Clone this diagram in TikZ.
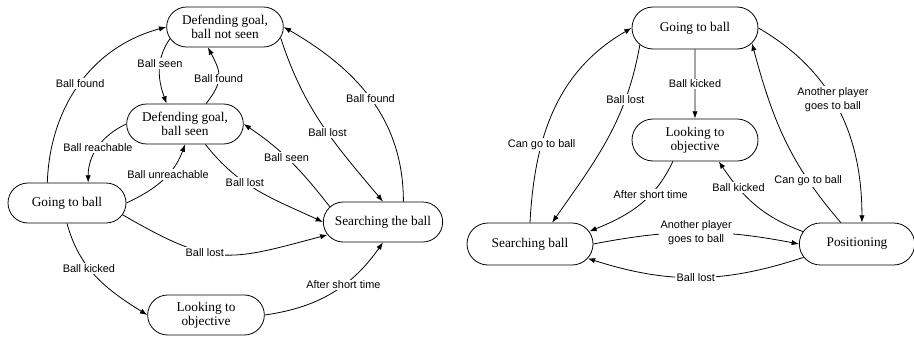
\documentclass[tikz,border=0pt]{standalone}
\usepackage{fontspec}
\setmainfont{Liberation Serif}
\setsansfont{Liberation Sans}
\usetikzlibrary{arrows.meta,shapes.misc}

\begin{document}
\begin{tikzpicture}[x=0.75pt,y=0.75pt,line width=0.6pt,>={Latex[length=5.5pt,width=4pt]},
	zustand/.style={draw,rounded rectangle,inner xsep=-6pt,minimum width=75.5pt,minimum height=30pt,align=center,font=\fontsize{10}{10.5}\selectfont},
	zustandr/.style={zustand,minimum width=82.5pt,minimum height=31.5pt},
	lbl/.style={fill=white,inner sep=1pt,align=center,font=\sffamily\fontsize{8.2}{10.5}\selectfont}]
	\useasboundingbox (0,0) rectangle (914,-336);
	% Zustaende links
	\node[zustand] (defa) at (225,-27) {Defending goal,\\ball not seen};
	\node[zustand] (defb) at (185,-124) {Defending goal,\\ball seen};
	\node[zustand,minimum width=76.5pt] (goL) at (67,-203) {Going to ball};
	\node[zustand,minimum width=77.5pt] (searchL) at (383,-222) {Searching the ball};
	\node[zustand] (lookL) at (206,-315) {Looking to\\objective};
	% Uebergaenge links
	\draw[->] (goL.134) to[out=88,in=195] node[lbl,pos=0.5] {Ball found} (defa.west);
	\draw[->] (defa.192) to[out=235,in=110] node[lbl,pos=0.4] {Ball seen} (defb.132);
	\draw[->] (defb.44) to[out=52,in=-62,looseness=1.3] node[lbl,pos=0.45] {Ball found} (defa.230);
	\draw[->] (defb.west) to[out=205,in=90] node[lbl,pos=0.5] {Ball reachable} (goL.44);
	\draw[->] (goL.east) to[out=25,in=-110] node[lbl,pos=0.6] {Ball unreachable} (defb.south);
	\draw[->] (defb.315) to[out=-52,in=155] node[lbl,pos=0.38] {Ball lost} (searchL.west);
	\draw[->] (searchL.164) to[out=128,in=-34] node[lbl,pos=0.55] {Ball seen} (defb.east);
	\draw[->] (defa.349) to[out=-72,in=130] node[lbl,pos=0.55] {Ball lost} (searchL.north);
	\draw[->] (searchL.45) to[out=90,in=-30] node[lbl,pos=0.5] {Ball found} (defa.east);
	\draw[->] (goL.348) to[out=-30,in=195,looseness=1.3] node[lbl,pos=0.4] {Ball lost} (searchL.193);
	\draw[->] (goL.south) to[out=-75,in=148] node[lbl,pos=0.4] {Ball kicked} (lookL.west);
	\draw[->] (lookL.east) to[out=8,in=235] node[lbl,pos=0.6] {After short time} (searchL.south);
	% Zustaende rechts
	\node[zustandr] (goR) at (695,-28) {Going to ball};
	\node[zustandr] (lookR) at (695,-140) {Looking to\\objective};
	\node[zustandr] (searchR) at (530,-244) {Searching ball};
	\node[zustandr,minimum width=74.5pt] (posR) at (857,-244) {Positioning};
	% Uebergaenge rechts
	\draw[->] (searchR.north) to[out=87,in=210] node[lbl,pos=0.33] {Can go to ball} (goR.west);
	\draw[->] (goR.197) to[out=-100,in=55] node[lbl,pos=0.27] {Ball lost} (searchR.44);
	\draw[->] (goR) -- node[lbl] {Ball kicked} (lookR);
	\draw[->] (goR.east) to[out=-30,in=90] node[lbl,pos=0.45] {Another player\\goes to ball} (posR.77);
	\draw[->] (posR.127) to[out=131,in=-75] node[lbl,pos=0.25] {Can go to ball} (goR.345);
	\draw[->] (posR.167) to[out=160,in=-56] node[lbl,pos=0.72] {Ball kicked} (lookR.318);
	\draw[->] (lookR.224) to[out=-115,in=22] node[lbl,pos=0.35] {After short time} (searchR.12);
	\draw[->] (searchR.east) to[bend left=11] node[lbl] {Another player\\goes to ball} (posR.west);
	\draw[->] (posR.194) to[bend left=18] node[lbl] {Ball lost} (searchR.346);
\end{tikzpicture}
\end{document}
